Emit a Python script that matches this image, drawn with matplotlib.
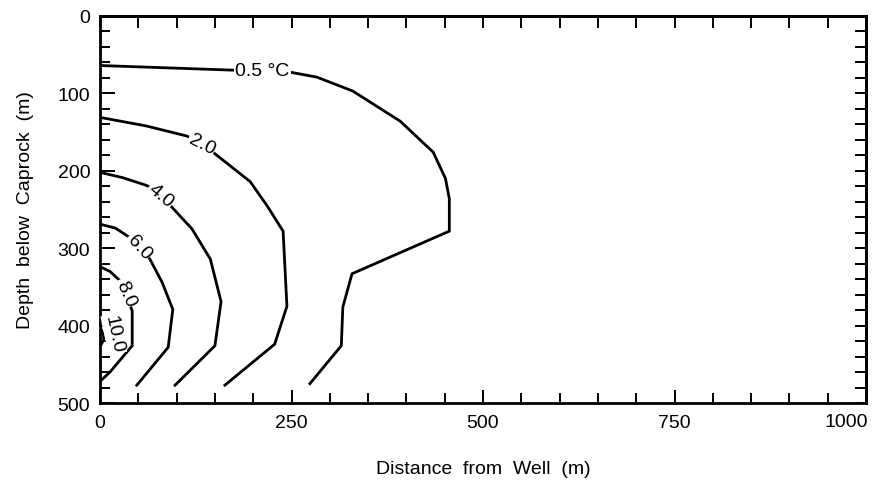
import numpy as np
import matplotlib
matplotlib.use('Agg')
import matplotlib.pyplot as plt
from matplotlib.ticker import MultipleLocator, FuncFormatter

plt.rcParams['font.family'] = ['Liberation Sans', 'DejaVu Sans']

# temperature-change isotherms (distance from well, depth below caprock)
x_05 = [0, 174, 210, 245, 283, 330, 392, 435, 451, 456, 456, 329, 317, 315, 274]
y_05 = [64, 70, 71, 72, 79, 97, 136, 176, 210, 236, 278, 333, 376, 426, 475]

x_20 = [0, 60, 113, 133, 150, 196, 218, 239, 244, 228, 163]
y_20 = [131, 142, 155, 165, 178, 214, 245, 278, 375, 424, 477]

x_40 = [0, 30, 61, 80, 91, 120, 144, 158, 150, 98]
y_40 = [202, 209, 219, 230, 244, 275, 314, 369, 426, 477]

x_60 = [0, 20, 37, 52, 65, 81, 95, 89, 48]
y_60 = [269, 274, 285, 298, 314, 344, 379, 428, 477]

x_80 = [0, 13, 26, 34, 42, 42, 13, 0]
y_80 = [324, 330, 342, 360, 381, 426, 460, 472]

x_100 = [0, 4, 5, 0]
y_100 = [402, 410, 418, 427]

# label text, anchor (x, y) and rotation for each isotherm
labels = [
    ('0.5 \u00b0C', 212, 71, 0),
    ('2.0', 133, 165, -27),
    ('4.0', 79, 232, -40),
    ('6.0', 51, 298, -48),
    ('8.0', 33, 358, -66),
    ('10.0', 18, 411, -78),
]

X_MAX = 1000

fig = plt.figure(figsize=(8.79, 4.85), dpi=100)
ax = fig.add_axes([0.1138, 0.167, 0.8714, 0.798])

for xs, ys in [(x_05, y_05), (x_20, y_20), (x_40, y_40),
               (x_60, y_60), (x_80, y_80), (x_100, y_100)]:
    ax.plot(xs, ys, color='black', lw=2.0, solid_joinstyle='miter', zorder=2)

for txt, lx, ly, rot in labels:
    ax.text(lx, ly, txt, fontsize=14, rotation=rot, rotation_mode='anchor',
            ha='center', va='center', zorder=3,
            bbox=dict(boxstyle='square,pad=0.05', fc='white', ec='none'))

ax.set_xlim(0, X_MAX)
ax.set_ylim(500, 0)

ax.xaxis.set_major_locator(MultipleLocator(250))
ax.xaxis.set_minor_locator(MultipleLocator(50))
ax.yaxis.set_major_locator(MultipleLocator(100))
ax.yaxis.set_minor_locator(MultipleLocator(20))

# last x label is drawn flush with the right edge instead of centred
ax.xaxis.set_major_formatter(FuncFormatter(
    lambda v, pos: '' if v >= X_MAX else '%d' % v))
ax.text(X_MAX + 2, -0.027, '%d' % X_MAX, transform=ax.get_xaxis_transform(),
        ha='right', va='top', fontsize=14)

ax.tick_params(which='both', direction='in', width=1.4, labelsize=14,
               top=False, right=False)
ax.tick_params(axis='x', which='major', length=9.4, pad=8)
ax.tick_params(axis='x', which='minor', length=7.2)
ax.tick_params(axis='y', which='major', length=10.8, pad=7)
ax.tick_params(axis='y', which='minor', length=7.2)

# top and right edges carry uniform unlabelled ticks
top = ax.secondary_xaxis('top')
top.xaxis.set_major_locator(MultipleLocator(50))
top.tick_params(direction='in', length=8.6, width=1.4, labeltop=False)
right = ax.secondary_yaxis('right')
right.yaxis.set_major_locator(MultipleLocator(20))
right.tick_params(direction='in', length=8.0, width=1.4, labelright=False)

for sp in list(ax.spines.values()) + [top.spines['top'], right.spines['right']]:
    sp.set_linewidth(2.0)

ax.set_xlabel('Distance  from  Well  (m)', fontsize=14, labelpad=21)
ax.set_ylabel('Depth  below  Caprock  (m)', fontsize=14, labelpad=17)

fig.savefig('out.png', dpi=100)
